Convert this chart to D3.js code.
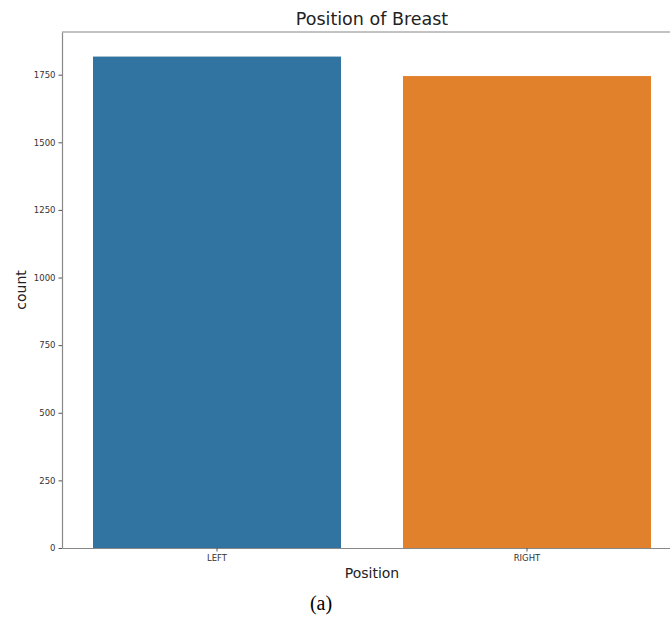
<!DOCTYPE html>
<html><head><meta charset="utf-8">
<script src="https://cdn.jsdelivr.net/npm/d3@7"></script>
<style>body{margin:0;background:#fff;overflow:hidden}svg{display:block}</style>
</head><body>
<script>
const categories = ["LEFT", "RIGHT"];
const counts = [1817, 1745];
const colors = ["#3274a1", "#e1812c"];
const yTicks = [0, 250, 500, 750, 1000, 1250, 1500, 1750];

const W = 670, H = 619;
const svg = d3.select("body").append("svg").attr("width", W).attr("height", H);

const x = d3.scaleBand().domain(categories).range([62, 682]).paddingInner(0.2).paddingOuter(0.1);
const y = d3.scaleLinear().domain([0, d3.max(counts) * 1.05]).range([548, 32]);

svg.selectAll("rect.bar").data(categories).enter().append("rect")
  .attr("class", "bar")
  .attr("x", d => x(d))
  .attr("width", x.bandwidth())
  .attr("y", (d, i) => y(counts[i]))
  .attr("height", (d, i) => y(0) - y(counts[i]))
  .attr("fill", (d, i) => colors[i]);

const yAxis = svg.append("g").attr("transform", "translate(62,0)")
  .call(d3.axisLeft(y).tickValues(yTicks).tickSizeInner(3.5).tickSizeOuter(0).tickPadding(3).tickFormat(d3.format("d")));
const xAxis = svg.append("g").attr("transform", "translate(0,548)")
  .call(d3.axisBottom(x).tickSizeInner(3.5).tickSizeOuter(0).tickPadding(3));
[yAxis, xAxis].forEach(g => {
  g.select(".domain").attr("stroke", "#888").attr("stroke-width", 1.2);
  g.selectAll(".tick line").attr("stroke", "#555");
  g.selectAll(".tick text").attr("fill", "#333").style("font-family", "DejaVu Sans").style("font-size", "8.5px");
});
// top spine
svg.append("line").attr("x1", 62).attr("x2", 682).attr("y1", 32).attr("y2", 32)
  .attr("stroke", "#888").attr("stroke-width", 1.2);

svg.append("text").attr("x", 372).attr("y", 25).attr("text-anchor", "middle")
  .style("font-family", "DejaVu Sans").style("font-size", "17.5px").attr("fill", "#222")
  .text("Position of Breast");
svg.append("text").attr("transform", "translate(26,290) rotate(-90)").attr("text-anchor", "middle")
  .style("font-family", "DejaVu Sans").style("font-size", "14px").attr("fill", "#222")
  .text("count");
svg.append("text").attr("x", 372).attr("y", 578).attr("text-anchor", "middle")
  .style("font-family", "DejaVu Sans").style("font-size", "14px").attr("fill", "#222")
  .text("Position");
svg.append("text").attr("x", 321).attr("y", 610).attr("text-anchor", "middle")
  .style("font-family", "Liberation Serif").style("font-size", "20px").attr("fill", "#000")
  .text("(a)");
</script>
</body></html>
